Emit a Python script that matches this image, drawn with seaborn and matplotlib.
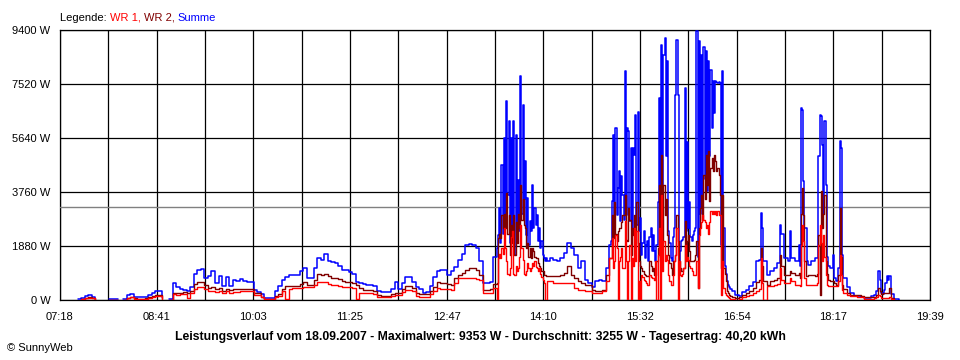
"""SunnyWeb daily power curve (18.09.2007): WR 1, WR 2 and Summe."""

import matplotlib

matplotlib.use("Agg")

import matplotlib.pyplot as plt
import numpy as np
import pandas as pd
import seaborn as sns

nan = np.nan

RED = "#ff0000"
DARKRED = "#800000"
BLUE = "#0000ff"

# --- data (W) ----------------------------------------------------------------
times_morning = [
    "07:33", "07:36", "07:39", "07:42", "07:45", "07:48", "07:51", "08:00", "08:04", "08:07",
    "08:10", "08:12", "08:15", "08:18", "08:21", "08:24", "08:27", "08:30", "08:33", "08:36",
    "08:39", "08:42", "08:45", "08:48", "08:51", "08:54", "08:57", "09:00", "09:03", "09:06",
    "09:09", "09:12", "09:15", "09:18", "09:21", "09:24", "09:27", "09:30", "09:33", "09:36",
    "09:39", "09:42", "09:45", "09:48", "09:51",
]
summe_morning = [
    20, 60, 130, 160, 120, 20, nan, 20, 20, 20,
    nan, 30, 180, 200, 120, 90, 90, 110, 180, 250,
    320, 300, 100, nan, 30, 600, 440, 380, 360, 330,
    450, 900, 1050, 1080, 780, 850, 1020, 600, 830, 490,
    800, 500, 700, 650, 720,
]
wr2_morning = [
    nan, 30, 70, 90, 60, 10, nan, 10, 10, 10,
    nan, 10, 80, 100, 60, 40, 50, 60, 100, 130,
    170, 160, 50, nan, 10, 250, 230, 260, 270, 260,
    320, 560, 620, 640, 520, 420, 450, 380, 420, 330,
    400, 340, 380, 370, 380,
]
wr1_morning = [
    nan, 30, 60, 80, 60, 10, nan, 10, 10, 10,
    nan, 10, 80, 90, 50, 40, 40, 50, 80, 110,
    140, 140, 40, nan, 10, 200, 180, 200, 210, 60,
    260, 400, 440, 460, 380, 330, 310, 280, 300, 240,
    300, 260, 290, 280, 300,
]

times_midday = [
    "09:54", "09:57", "10:00", "10:03", "10:06", "10:09", "10:12", "10:15", "10:18", "10:21",
    "10:24", "10:27", "10:30", "10:33", "10:36", "10:39", "10:42", "10:45", "10:48", "10:51",
    "10:54", "10:57", "11:00", "11:03", "11:06", "11:09", "11:12", "11:15", "11:18", "11:21",
    "11:24", "11:27", "11:30", "11:33", "11:36", "11:39", "11:42", "11:45", "11:48", "11:51",
    "11:54", "11:57", "12:00", "12:03", "12:06", "12:09", "12:12", "12:15", "12:18", "12:21",
    "12:24", "12:27", "12:30", "12:33", "12:36", "12:39", "12:42", "12:45", "12:48", "12:51",
    "12:54", "12:57", "13:00", "13:03", "13:06", "13:09", "13:12", "13:15", "13:18", "13:21",
    "13:24", "13:27", "13:30",
]
summe_midday = [
    650, 640, 620, 350, 290, 200, 60, 60, 60, 300,
    500, 700, 800, 870, 870, 870, 1000, 1100, 780, 760,
    1100, 1450, 1400, 1600, 1350, 1330, 1300, 1200, 1050, 1050,
    960, 900, 640, 600, 560, 520, 520, 500, 300, 290,
    290, 290, 400, 640, 390, 600, 790, 790, 620, 465,
    400, 230, 290, 500, 810, 1000, 1060, 1060, 880, 1000,
    1150, 1400, 1600, 1900, 1950, 1925, 1800, 1345, 590, 590,
    620, 1500, 1810,
]
wr2_midday = [
    400, 400, 390, 240, 230, 120, 30, 30, 30, 130,
    200, 380, 480, 490, 490, 490, 560, 640, 530, 520,
    700, 900, 880, 900, 820, 760, 750, 720, 650, 640,
    640, 600, 520, 420, 360, 350, 340, 330, 160, 150,
    150, 150, 200, 255, 255, 380, 487, 487, 420, 260,
    210, 200, 210, 300, 450, 640, 590, 590, 560, 520,
    760, 870, 950, 1050, 1100, 1115, 1050, 880, 360, 360,
    370, 560, 600,
]
wr1_midday = [
    325, 320, 310, 180, 170, 90, 20, 20, 20, 90,
    150, 300, 20, 400, 405, 405, 420, 440, 440, 440,
    520, 640, 620, 640, 560, 520, 520, 500, 470, 460,
    440, 420, 20, 240, 232, 232, 230, 220, 120, 116,
    116, 116, 140, 180, 180, 280, 350, 350, 300, 150,
    116, 116, 116, 200, 300, 420, 395, 395, 385, 360,
    600, 760, 765, 765, 765, 765, 740, 700, 245, 245,
    250, 420, 20,
]

times_spike1 = [
    "13:31", "13:32", "13:33", "13:34", "13:35", "13:36", "13:37", "13:38", "13:39", "13:40",
    "13:41", "13:42", "13:43", "13:44", "13:45", "13:46", "13:47", "13:48", "13:49", "13:50",
    "13:51", "13:52", "13:53", "13:54", "13:55", "13:56", "13:57", "13:58", "13:59", "14:00",
    "14:01", "14:02", "14:03", "14:04", "14:05", "14:06", "14:07", "14:08", "14:09", "14:10",
    "14:11", "14:12", "14:13",
]
summe_spike1 = [
    2270, 3200, 2000, 4700, 2300, 5640, 2500, 6920, 3670, 6220,
    2000, 5640, 2500, 6230, 1580, 5750, 2040, 4190, 2400, 7790,
    3000, 6800, 3500, 4830, 2270, 3550, 1925, 2740, 2390, 4015,
    2500, 3200, 2620, 2970, 2040, 2500, 1810, 2040, 1580, 1460,
    1345, 1460, 1345,
]
wr2_spike1 = [
    2160, 2300, 2160, 2970, 2500, 3000, 2500, 3725, 2300, 2970,
    1580, 2600, 2000, 2970, 1580, 2700, 2000, 3000, 2500, 4015,
    2800, 3500, 2600, 2500, 1800, 2000, 1500, 1810, 1460, 1810,
    1700, 1500, 1460, 1460, 1300, 1200, 1115, 1000, 1000, 880,
    880, 850, 850,
]
wr1_spike1 = [
    1460, 1600, 1460, 1810, 1600, 2500, 1810, 1350, 900, 880,
    1100, 2200, 2400, 900, 880, 1200, 1000, 1100, 1500, 2620,
    1800, 1400, 900, 880, 1000, 1300, 1115, 1000, 1115, 1300,
    1200, 1346, 1150, 1115, 1000, 1115, 900, 800, 700, 600,
    0, 0, 650,
]

times_afternoon = [
    "14:15", "14:18", "14:21", "14:24", "14:27", "14:30", "14:33", "14:36", "14:39", "14:42",
    "14:45", "14:48", "14:51", "14:54", "14:57", "15:00", "15:03", "15:06",
]
summe_afternoon = [1460, 1404, 1346, 1460, 1636, 1984, 1810, 1578, 1114, 1346,
                   708, 592, 441, 650, 708, 650, 1114, 1925]
wr2_afternoon = [824, 824, 824, 882, 940, 1172, 882, 766, 650, 592,
                 534, 534, 360, 300, 300, 360, 882, 1460]
wr1_afternoon = [650, 592, 592, 592, 592, 592, 592, 418, 360, 360,
                 325, 300, 245, 245, 245, 300, 650, 1460]

times_spike2 = [
    "15:07", "15:08", "15:09", "15:10", "15:11", "15:12", "15:13", "15:14", "15:15", "15:16",
    "15:17", "15:18", "15:19", "15:20", "15:21", "15:22", "15:23", "15:24", "15:25", "15:26",
    "15:27", "15:28", "15:29", "15:30", "15:31", "15:32", "15:33", "15:34", "15:35", "15:36",
    "15:37", "15:38", "15:39", "15:40", "15:41", "15:42", "15:43", "15:44", "15:45", "15:46",
    "15:47", "15:48", "15:49", "15:50", "15:51", "15:52", "15:53", "15:54", "15:55", "15:56",
    "15:57", "15:58", "15:59", "16:00", "16:01", "16:02", "16:03", "16:04", "16:05", "16:06",
    "16:07", "16:08", "16:09", "16:10", "16:11", "16:12", "16:13", "16:14", "16:15", "16:16",
    "16:17", "16:18", "16:19", "16:20", "16:21", "16:22", "16:23", "16:24", "16:25", "16:26",
    "16:27", "16:28", "16:29", "16:30", "16:31", "16:32", "16:33", "16:34", "16:35", "16:36",
    "16:37", "16:38", "16:39", "16:40", "16:41", "16:42", "16:43", "16:44", "16:45", "16:46",
    "16:47", "16:48", "16:49", "16:50",
]
summe_spike2 = [
    2040, 3430, 5760, 2740, 5990, 2970, 3900, 4480, 2740, 4300,
    3670, 2800, 7960, 2970, 5990, 5870, 2740, 5290, 2500, 5290,
    5060, 6450, 2620, 6560, 2400, 2850, 1578, 2000, 2390, 1460,
    1900, 2040, 1346, 2200, 2500, 1694, 2270, 1700, 1346, 1925,
    3400, 7030, 2500, 8890, 3000, 8540, 9120, 5000, 8310, 2400,
    2000, 1460, 1346, 2200, 2500, 7150, 9060, 7150, 1346, 1700,
    2040, 2100, 2200, 7380, 2400, 5500, 2500, 3400, 2200, 2040,
    2270, 2400, 2500, 9350, 1500, 9000, 3000, 8540, 3600, 8800,
    4200, 8660, 3800, 8310, 5000, 8000, 5990, 7610, 6500, 7610,
    7600, 7550, 7600, 7550, 1900, 7960, 2500, 1200, 900, 650,
    534, 450, 400, 330,
]
wr2_spike2 = [
    1460, 2970, 2160, 3400, 2300, 2040, 2400, 2500, 2500, 2700,
    2970, 2970, 3670, 2100, 2040, 3200, 2800, 1580, 2500, 2270,
    2970, 1900, 3400, 2000, 1345, 1200, 1114, 1000, 900, 882,
    850, 824, 824, 1346, 1200, 1000, 1114, 882, 882, 1346,
    1810, 4000, 1500, 5060, 2000, 4015, 2970, 3500, 2270, 1578,
    1300, 1114, 882, 1346, 1346, 1578, 2970, 2040, 1346, 1100,
    998, 1000, 1114, 2740, 1500, 2040, 2270, 1700, 1346, 1346,
    1346, 1400, 1578, 2040, 418, 2500, 3200, 3667, 2800, 4360,
    3500, 5060, 4000, 5176, 3434, 4597, 4944, 4500, 5060, 4830,
    4480, 4600, 4360, 3667, 1114, 3667, 1114, 900, 650, 302,
    250, 186, 150, 120,
]
wr1_spike2 = [
    1460, 2160, 1114, 1346, 2270, 1800, 0, 1346, 1500, 1810,
    1114, 1114, 2740, 1346, 0, 1346, 1925, 0, 1460, 1200,
    2500, 1346, 2390, 0, 650, 0, 882, 800, 700, 650,
    600, 534, 534, 882, 800, 766, 766, 700, 1346, 0,
    1578, 2506, 0, 3667, 1000, 2042, 1346, 1578, 1400, 882,
    650, 534, 534, 882, 1346, 1578, 2506, 0, 1346, 882,
    850, 900, 1100, 1925, 1346, 1500, 1400, 1200, 1100, 1000,
    882, 882, 882, 1346, 418, 2270, 2506, 2700, 2971, 2800,
    2700, 2506, 2600, 2300, 2700, 3086, 3000, 3086, 3000, 3086,
    2971, 3086, 2971, 2971, 186, 1346, 418, 244, 186, 150,
    100, 70, 50, 30,
]

times_evening = [
    "16:53", "16:56", "16:59", "17:02", "17:05", "17:08", "17:11", "17:13", "17:15", "17:16",
    "17:17", "17:20", "17:23", "17:26", "17:29", "17:31", "17:32", "17:35", "17:38", "17:40",
    "17:41", "17:44", "17:47", "17:48", "17:49", "17:50", "17:51", "17:52", "17:53", "17:54",
    "17:55", "17:58", "18:01", "18:03", "18:04", "18:05", "18:06", "18:07", "18:08", "18:09",
    "18:10", "18:11", "18:12", "18:14", "18:16", "18:17", "18:19", "18:21", "18:22", "18:23",
    "18:24", "18:25", "18:28", "18:31", "18:34", "18:37", "18:40", "18:43", "18:46", "18:49",
    "18:51", "18:53", "18:55", "18:56", "18:57", "18:59", "19:00", "19:01", "19:02", "19:03",
    "19:04", "19:05", "19:06", "19:08", "19:11", "19:13",
]
summe_evening = [
    190, 150, 270, 360, 476, 620, 1346, 1400, 3030, 2500,
    1346, 882, 1000, 1114, 1300, 2620, 2300, 1460, 1350, 2390,
    1460, 1346, 1925, 1170, 6680, 6600, 4130, 2506, 2506, 1346,
    1230, 1346, 1460, 1460, 5000, 6450, 6400, 5400, 3000, 6220,
    4000, 1500, 1200, 1100, 1578, 766, 650, 1114, 5520, 5300,
    1578, 770, 450, 250, 154, 140, 120, 80, 60, 130,
    170, 300, 1000, 700, 250, 200, 350, 600, 825, 700,
    825, 825, 200, 50, 20, 10,
]
wr2_evening = [
    70, 100, 186, 244, 302, 418, 630, 700, 1810, 1200,
    650, 534, 650, 708, 766, 1578, 1200, 882, 882, 998,
    950, 880, 940, 766, 3000, 3900, 2971, 1346, 824, 850,
    882, 882, 850, 900, 2270, 186, 3780, 2506, 3000, 3667,
    1346, 900, 700, 650, 650, 600, 534, 882, 3200, 1500,
    534, 400, 250, 186, 186, 160, 150, 93, 93, 93,
    120, 186, 418, 300, 200, 244, 244, 244, 244, 244,
    418, 418, 70, 40, nan, nan,
]
wr1_evening = [
    12, 30, 100, 128, 186, 244, 300, 400, 1460, 600,
    0, 476, 500, 534, 560, 1114, 700, 592, 600, 766,
    650, 534, 534, 476, 1925, 2620, 2042, 766, 534, 534,
    534, 534, 534, 600, 1925, 2620, 2000, 1346, 2270, 1500,
    882, 534, 476, 476, 476, 476, 500, 650, 1578, 882,
    360, 250, 160, 128, 128, 110, 90, 46, 46, 46,
    60, 100, 186, 150, 80, 70, 70, 70, 70, 70,
    100, 100, 30, 20, nan, nan,
]

x_tick_labels = ["07:18", "08:41", "10:03", "11:25", "12:47",
                 "14:10", "15:32", "16:54", "18:17", "19:39"]
y_max = 9400
y_step = 1880
average_w = 3255
title = ("Leistungsverlauf vom 18.09.2007 - Maximalwert: 9353 W - "
         "Durchschnitt: 3255 W - Tagesertrag: 40,20 kWh")


def to_minutes(hhmm):
    h, m = hhmm.split(":")
    return int(h) * 60 + int(m)


def build_frame():
    parts = [
        (times_morning, wr1_morning, wr2_morning, summe_morning),
        (times_midday, wr1_midday, wr2_midday, summe_midday),
        (times_spike1, wr1_spike1, wr2_spike1, summe_spike1),
        (times_afternoon, wr1_afternoon, wr2_afternoon, summe_afternoon),
        (times_spike2, wr1_spike2, wr2_spike2, summe_spike2),
        (times_evening, wr1_evening, wr2_evening, summe_evening),
    ]
    frames = []
    for t, a, b, s in parts:
        assert len(t) == len(a) == len(b) == len(s), (t[0], len(t), len(a), len(b), len(s))
        frames.append(pd.DataFrame({"time": t, "wr1": a, "wr2": b, "summe": s}))
    df = pd.concat(frames, ignore_index=True)
    df["minute"] = df["time"].map(to_minutes)
    return df


def draw_series(ax, df, column, color, lw):
    # Missing readings break the curve: every run without NaN becomes a unit.
    sub = df[["minute", column]].copy()
    sub["seg"] = sub[column].isna().cumsum()
    sub = sub.dropna()
    sns.lineplot(data=sub, x="minute", y=column, units="seg", estimator=None,
                 color=color, linewidth=lw, drawstyle="steps-post",
                 legend=False, zorder=3, ax=ax)


def main():
    sns.set_style("white")
    plt.rcParams["font.family"] = ["Liberation Sans", "DejaVu Sans"]
    df = build_frame()

    fig = plt.figure(figsize=(9.6, 3.6), dpi=100, facecolor="white")
    ax = fig.add_axes([60 / 960, 60 / 360, 870 / 960, 270 / 360])

    t0, t1 = 438, 1179
    ax.axhline(average_w, color="#808080", linewidth=1.0, zorder=2)
    draw_series(ax, df, "summe", BLUE, 1.1)
    draw_series(ax, df, "wr2", DARKRED, 1.0)
    draw_series(ax, df, "wr1", RED, 1.0)

    ax.set_xlim(t0, t1)
    ax.set_ylim(0, y_max)
    xt = np.linspace(t0, t1, 19)
    ax.set_xticks(xt)
    ax.set_xticklabels([x_tick_labels[i // 2] if i % 2 == 0 else "" for i in range(19)])
    yt = np.arange(0, y_max + 1, y_step)
    ax.set_yticks(yt)
    ax.set_yticklabels([f"{v} W" for v in yt])
    ax.set_xlabel("")
    ax.set_ylabel("")

    ax.set_axisbelow(True)
    ax.grid(True, color="black", linewidth=0.9)
    for sp in ax.spines.values():
        sp.set_color("black")
        sp.set_linewidth(0.9)
        sp.set_zorder(1)
    ax.tick_params(axis="both", direction="out", length=4, width=0.9, color="black",
                   labelsize=8, labelcolor="black", pad=3)
    ax.tick_params(axis="x", pad=5)

    # multi-coloured legend line above the plot
    t = fig.text(60 / 960, 1 - 21 / 360, "Legende: ", color="black", fontsize=8,
                 ha="left", va="baseline")
    for text, color in (("WR 1, ", RED), ("WR 2, ", DARKRED), ("Summe", BLUE)):
        t = ax.annotate(text, xy=(1, 0), xycoords=t, color=color, fontsize=8,
                        ha="left", va="bottom", annotation_clip=False)

    fig.text(0.5, 1 - 337 / 360, title, ha="center", va="center", fontsize=8.8,
             fontweight="bold", color="black")
    fig.text(7 / 960, 1 - 348 / 360, "\u00a9 SunnyWeb", ha="left", va="center",
             fontsize=8, color="black")

    fig.savefig("out.png", dpi=100, facecolor="white")
    plt.close(fig)


if __name__ == "__main__":
    main()
